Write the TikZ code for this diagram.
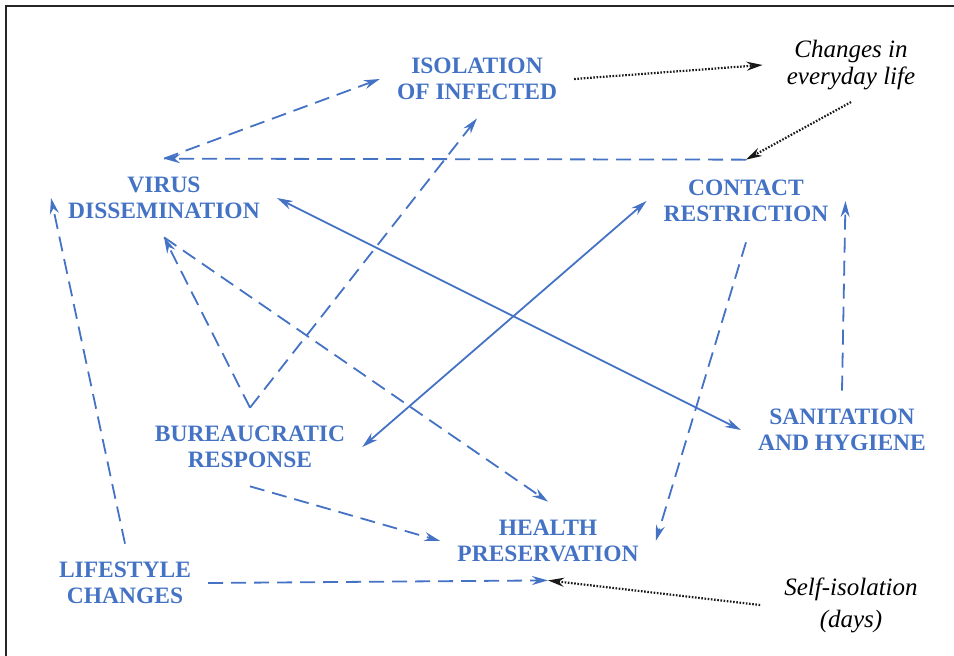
\documentclass[tikz,border=0pt]{standalone}
\usepackage{fontspec}
\setmainfont{Liberation Serif}
\usepackage{tikz}
\usetikzlibrary{arrows.meta}
\definecolor{boxblue}{HTML}{4472C4}

\tikzset{
  concept/.style={text=boxblue,font=\fontsize{23.5}{26.5}\selectfont\bfseries,
    align=center,inner xsep=17pt,inner ysep=18pt},
  remark/.style={font=\fontsize{25}{27}\selectfont\itshape,align=center,
    inner xsep=24pt,inner ysep=12pt},
  link/.style={draw=boxblue,line width=1.8pt},
  dlink/.style={link,dash pattern=on 15pt off 8pt},
  note/.style={draw=black!90,line width=2.2pt,dash pattern=on 1.6pt off 1.6pt}
}

\begin{document}
\begin{tikzpicture}[x=1pt,y=-1pt,>={Stealth[length=16pt,width=9pt]}]
\useasboundingbox (0,0) rectangle (954,656);
\draw[line width=2.2pt,black!85] (6,656) -- (6,6) -- (954,6);

\node[concept] (iso) at (477,79) {ISOLATION\\OF INFECTED};
\node[concept] (virus) at (164,198) {VIRUS\\DISSEMINATION};
\node[concept,inner ysep=20pt] (contact) at (746,201) {CONTACT\\RESTRICTION};
\node[concept] (sanit) at (842,430) {SANITATION\\AND HYGIENE};
\node[concept] (bureau) at (250,447) {BUREAUCRATIC\\RESPONSE};
\node[concept] (health) at (548,541) {HEALTH\\PRESERVATION};
\node[concept] (life) at (125,583) {LIFESTYLE\\CHANGES};
\node[remark] (everyday) at (851,65) {Changes in\\everyday life};
\node[remark] (selfiso) at (851,605) {Self-isolation\\[5pt](days)};

% dashed links
\draw[dlink,->] (virus.north) -- (iso.west);
\draw[dlink,->] (contact.north) -- (virus.north);
\draw[dlink,->] (bureau.north) -- (virus.south);
\draw[dlink,->] (bureau.north) -- (iso.south);
\draw[dlink,->] (virus.south) -- (health.north);
\draw[dlink,->] (contact.south) -- (health.east);
\draw[dlink,->] (sanit.north) -- (contact.east);
\draw[dlink,->] (bureau.south) -- (health.west);
\draw[dlink,->] (life.north) -- (virus.west);
\draw[dlink,->] (life.east) -- (health.south);

% solid links
\draw[link,<->] (virus.east) -- (sanit.west);
\draw[link,<->] (bureau.east) -- (contact.west);

% dotted notes
\draw[note,->] (iso.east) -- (everyday.west);
\draw[note,->] (everyday.south) -- (contact.north);
\draw[note,->] (selfiso.west) -- (health.south);

\end{tikzpicture}
\end{document}
